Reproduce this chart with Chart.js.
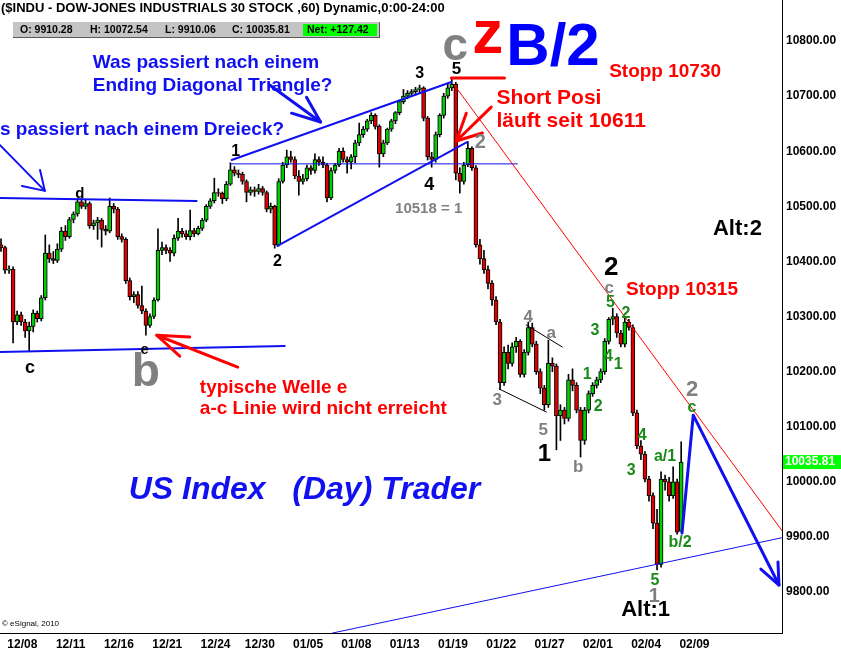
<!DOCTYPE html>
<html>
<head>
<meta charset="utf-8">
<script src="https://cdn.jsdelivr.net/npm/chart.js@4.4.0/dist/chart.umd.min.js"></script>
<style>
  html, body { margin: 0; padding: 0; background: #fff; }
</style>
</head>
<body>
<canvas id="chart" width="841" height="653"></canvas>
<script>
// $INDU hourly candles (about 4 candles per trading day)
const dayLabels = ['12/08','12/11','12/16','12/21','12/24','12/30','01/05','01/08','01/13','01/19','01/22','01/27','02/01','02/04','02/09'];
const dayStart  = [2, 14, 26, 38, 50, 61, 73, 85, 97, 109, 121, 133, 145, 157, 169]; // candle index of each labelled day
const yTicks = [9800, 9900, 10000, 10100, 10200, 10300, 10400, 10500, 10600, 10700, 10800];

const opens = [10430,
  10425,10384,10386,10290, 10303,10290,10274,10282, 10306,10296,10334,10415, 10405,10402,10422,10455,
  10445,10476,10486,10508, 10500,10505,10465,10470, 10475,10458,10455,10500, 10495,10445,10440,10365,
  10336,10340,10320,10310, 10284,10300,10330,10420, 10425,10420,10415,10442, 10455,10450,10445,10456,
  10450,10460,10475,10500, 10510,10525,10524,10514, 10540,10566,10560,10558, 10545,10525,10530,10527,
  10532,10525,10495,10500, 10430,10545,10575,10590, 10585,10555,10545,10550, 10570,10565,10585,10580,
  10575,10515,10565,10575, 10600,10585,10580,10590, 10615,10630,10640,10655, 10665,10645,10595,10615,
  10640,10655,10670,10690, 10700,10705,10708,10712, 10715,10660,10590,10585, 10630,10665,10700,10715,
  10722,10560,10545,10575, 10605,10570,10430,10405, 10385,10360,10330,10290, 10180,10235,10215,10245,
  10255,10195,10235,10280, 10250,10200,10170,10140, 10215,10210,10120,10130, 10115,10185,10175,10130,
  10075,10130,10160,10175, 10185,10200,10255,10295, 10300,10270,10250,10290, 10280,10125,10065,10050,
  10005,9975,9925,9850, 10005,10000,9975,10000, 9910.28];

const highs = [
  10441,10428,10392,10390, 10310,10308,10295,10290, 10312,10310,10338,10448, 10430,10418,10432,10462,
  10465,10480,10490,10514, 10515,10512,10508,10475, 10480,10478,10465,10515, 10505,10498,10450,10443,
  10370,10345,10345,10355, 10314,10305,10334,10459, 10435,10430,10425,10448, 10478,10460,10456,10493,
  10460,10464,10478,10503, 10514,10551,10532,10526, 10545,10579,10572,10566, 10562,10548,10535,10535,
  10540,10536,10528,10506, 10502,10550,10580,10602, 10600,10590,10565,10558, 10575,10574,10595,10590,
  10590,10578,10570,10578, 10605,10606,10590,10594, 10620,10651,10645,10658, 10670,10668,10648,10620,
  10642,10658,10672,10692, 10712,10710,10712,10716, 10720,10717,10663,10598, 10635,10668,10705,10722,
  10733,10725,10570,10580, 10617,10608,10574,10440, 10420,10392,10365,10336, 10295,10245,10248,10252,
  10262,10258,10240,10290, 10288,10255,10205,10175, 10257,10225,10214,10140, 10135,10195,10205,10180,
  10135,10135,10165,10180, 10190,10205,10260,10298, 10315,10305,10275,10300, 10295,10285,10130,10075,
  10055,10010,9980,9950, 10018,10012,10008,10027, 10005,10072.54];

const lows = [
  10418,10378,10378,10252, 10285,10284,10262,10236, 10272,10290,10292,10330, 10398,10396,10398,10418,
  10438,10442,10470,10482, 10496,10495,10460,10458, 10440,10426,10448,10452, 10488,10440,10435,10360,
  10330,10325,10315,10305, 10266,10280,10296,10328, 10412,10414,10400,10410, 10438,10444,10440,10439,
  10445,10448,10456,10472, 10496,10506,10518,10505, 10510,10538,10555,10552, 10540,10508,10520,10518,
  10522,10520,10490,10488, 10424,10428,10542,10570, 10580,10550,10520,10540, 10546,10558,10560,10574,
  10570,10508,10512,10560, 10572,10580,10560,10568, 10579,10610,10625,10636, 10650,10640,10571,10590,
  10612,10636,10650,10666, 10686,10695,10700,10702, 10706,10655,10584,10571, 10580,10626,10660,10696,
  10710,10548,10524,10540, 10572,10565,10426,10395, 10378,10350,10320,10285, 10167,10175,10205,10210,
  10235,10190,10190,10230, 10245,10195,10160,10130, 10135,10200,10058,10075, 10105,10110,10165,10125,
  10045,10068,10125,10155, 10170,10180,10195,10250, 10285,10262,10245,10245, 10275,10120,10060,10040,
  10000,9965,9915,9840, 9845,9985,9965,9970, 9905,9910.06];

const closes = [
  10425,10384,10386,10290, 10303,10290,10274,10282, 10306,10296,10334,10415, 10405,10402,10422,10455,
  10445,10476,10486,10508, 10500,10505,10465,10470, 10475,10458,10455,10500, 10495,10445,10440,10365,
  10336,10340,10320,10310, 10284,10300,10330,10420, 10425,10420,10415,10442, 10455,10450,10445,10456,
  10450,10460,10475,10500, 10510,10525,10524,10514, 10540,10566,10560,10558, 10545,10525,10530,10527,
  10532,10525,10495,10500, 10430,10545,10575,10590, 10585,10555,10545,10550, 10570,10565,10585,10580,
  10575,10515,10565,10575, 10600,10585,10580,10590, 10615,10630,10640,10655, 10665,10645,10595,10615,
  10640,10655,10670,10690, 10700,10705,10708,10712, 10715,10660,10590,10585, 10630,10665,10700,10715,
  10722,10560,10545,10575, 10605,10570,10430,10405, 10385,10360,10330,10290, 10180,10235,10215,10245,
  10255,10195,10235,10280, 10250,10200,10170,10140, 10215,10210,10120,10130, 10115,10185,10175,10130,
  10075,10130,10160,10175, 10185,10200,10255,10295, 10300,10270,10250,10290, 10280,10125,10065,10050,
  10005,9975,9925,9850, 10005,10000,9975,10000, 9908.39,10035.81];

const n = Math.min(opens.length, highs.length, lows.length, closes.length);
const idx = [...Array(n).keys()];

// colours
const K = '#000', G = '#808080', R = '#ff0000', B = '#1010f0', GR = '#1a8a1a';
const F = s => s + ' "Liberation Sans", Arial, sans-serif';

// annotations, placed in data units (candle index, price)
const notes = [
  ['1', 58.3, 10599, 'bold 16px', K], ['2', 68.7, 10399, 'bold 16px', K], ['3', 104.0, 10740, 'bold 16px', K],
  ['4', 106.4, 10539, 'bold 18px', K], ['5', 113.15, 10748, 'bold 17px', K],
  ['c', 7.2, 10206, 'bold 18px', K], ['d', 19.6, 10522, 'bold 15px', K], ['e', 35.7, 10239, 'bold 15px', K],
  ['b', 36.0, 10196, 'bold 46px', G],
  ['10518 = 1', 114.6, 10496, 'bold 15px', G, 'right'],
  ['2', 119.1, 10615, 'bold 20px', G],
  ['4', 131.0, 10299, 'bold 17px', G], ['a', 136.7, 10270, 'bold 17px', G], ['3', 123.3, 10148, 'bold 17px', G],
  ['5', 134.7, 10094, 'bold 17px', G], ['b', 143.4, 10027, 'bold 17px', G],
  ['1', 135.0, 10050, 'bold 24px', K],
  ['2', 151.6, 10388, 'bold 26px', K], ['c', 151.1, 10351, 'bold 17px', G],
  ['5', 151.4, 10326, 'bold 16px', GR], ['3', 147.6, 10274, 'bold 16px', GR], ['2', 155.3, 10306, 'bold 16px', GR],
  ['4', 150.9, 10228, 'bold 16px', GR], ['1', 153.35, 10212, 'bold 16px', GR], ['1', 145.65, 10194, 'bold 16px', GR],
  ['2', 148.4, 10136, 'bold 16px', GR], ['4', 159.3, 10083, 'bold 16px', GR], ['3', 156.6, 10020, 'bold 16px', GR],
  ['a/1', 165.0, 10045, 'bold 16px', GR], ['b/2', 168.7, 9889, 'bold 16px', GR], ['5', 162.5, 9820, 'bold 16px', GR],
  ['c', 171.7, 10134, 'bold 16px', GR],
  ['2', 171.7, 10167, 'bold 22px', G], ['1', 162.3, 9791, 'bold 20px', G],
  ['Alt:1', 154.1, 9767, 'bold 22px', K, 'left'], ['Alt:2', 176.9, 10459, 'bold 22px', K, 'left'],
  ['Stopp 10315', 155.3, 10348, 'bold 19px', R, 'left'], ['Stopp 10730', 151.1, 10744, 'bold 19px', R, 'left'],
  ['Short Posi', 123.1, 10697, 'bold 21px', R, 'left'], ['läuft seit 10611', 123.1, 10655, 'bold 21px', R, 'left'],
  ['Was passiert nach einem', 22.8, 10760, 'bold 19px', B, 'left'],
  ['Ending Diagonal Triangle?', 22.8, 10718, 'bold 19px', B, 'left'],
  ['s passiert nach einem Dreieck?', -0.25, 10639, 'bold 19px', B, 'left'],
  ['typische Welle e', 49.4, 10170, 'bold 19px', R, 'left'],
  ['a-c Linie wird nicht erreicht', 49.4, 10132, 'bold 19px', R, 'left'],
  ['US Index   (Day) Trader', 75.4, 9985, 'italic bold 32px', B],
  ['c', 109.7, 10765.5, 'bold 46px', G, 'left', 'alphabetic'],
  ['z', 117.1, 10778, 'bold 62px', R, 'left', 'alphabetic'],
  ['B/2', 125.55, 10756, 'bold 60px', '#0000ff', 'left', 'alphabetic']
];

const strokes = [
  { pts: [[57.3, 10584], [111.9, 10725.6]], c: B, w: 2 },
  { pts: [[68.7, 10428], [115.9, 10616.7]], c: B, w: 2 },
  { pts: [[57.3, 10577], [128.3, 10577]], c: B, w: 1 },
  { pts: [[-0.25, 10515], [48.6, 10509.6]], c: B, w: 2 },
  { pts: [[-0.25, 10235.6], [70.5, 10246.5]], c: B, w: 2 },
  { pts: [[82.4, 9725.6], [195, 9900]], c: B, w: 1 },
  { pts: [[112.65, 10720], [195, 9902]], c: R, w: 1 },
  { pts: [[169.2, 9907], [172.0, 10121], [193.3, 9812.7]], c: B, w: 3 },
  { pts: [[188.8, 9841.7], [193.3, 9812.7], [193.05, 9854.4]], c: B, w: 3 },
  { pts: [[121.8, 10680], [113.15, 10618.5]], c: R, w: 3 },
  { pts: [[115.6, 10669], [113.15, 10618.5], [119.6, 10633]], c: R, w: 3 },
  { pts: [[111.9, 10733], [125.1, 10733]], c: R, w: 3 },
  { pts: [[66.75, 10720], [79.4, 10653]], c: B, w: 3 },
  { pts: [[75.9, 10698], [79.4, 10653], [72.2, 10669]], c: B, w: 3 },
  { pts: [[-0.25, 10611], [10.9, 10528]], c: B, w: 2 },
  { pts: [[5.2, 10537], [10.9, 10528], [9.7, 10566]], c: B, w: 2 },
  { pts: [[58.8, 10208], [38.7, 10266]], c: R, w: 3 },
  { pts: [[46.9, 10263], [38.7, 10266], [44.4, 10228]], c: R, w: 3 },
  { pts: [[130.5, 10284.6], [139.45, 10244.7]], c: K, w: 1 },
  { pts: [[123.8, 10168.4], [135.5, 10126.7]], c: K, w: 1 }
];

const overlay = {
  id: 'overlay',
  afterDatasetsDraw(chart) {
    const { ctx, chartArea: a, scales: { x, y } } = chart;
    ctx.save();
    ctx.beginPath();
    ctx.rect(a.left, a.top, a.right - a.left, a.bottom - a.top);
    ctx.clip();
    ctx.lineCap = 'round';
    ctx.lineJoin = 'round';
    strokes.forEach(s => {
      ctx.beginPath();
      s.pts.forEach(([px, py], k) => {
        const X = x.getPixelForValue(px), Y = y.getPixelForValue(py);
        if (k) ctx.lineTo(X, Y); else ctx.moveTo(X, Y);
      });
      ctx.strokeStyle = s.c;
      ctx.lineWidth = s.w;
      ctx.stroke();
    });
    notes.forEach(([t, px, py, f, c, al, bl]) => {
      ctx.font = F(f);
      ctx.fillStyle = c;
      ctx.textAlign = al || 'center';
      ctx.textBaseline = bl || 'middle';
      ctx.fillText(t, x.getPixelForValue(px), y.getPixelForValue(py));
    });
    ctx.font = F('8px');
    ctx.fillStyle = K;
    ctx.textAlign = 'left';
    ctx.fillText('\u00a9 eSignal, 2010', a.left + 2, a.bottom - 7);
    ctx.restore();

    // title line and quote strip
    const last = n - 1;
    ctx.save();
    ctx.textAlign = 'left';
    ctx.textBaseline = 'middle';
    ctx.font = F('bold 13px');
    ctx.fillStyle = K;
    ctx.fillText('($INDU - DOW-JONES INDUSTRIALS 30 STOCK ,60) Dynamic,0:00-24:00', 1, 8);
    ctx.fillStyle = '#c4c4c4';
    ctx.fillRect(13, 22, 367, 16);
    ctx.fillStyle = '#5a5a5a';
    ctx.fillRect(13, 37, 367, 1);
    ctx.fillRect(379, 22, 1, 16);
    ctx.fillStyle = '#00ff00';
    ctx.fillRect(303, 24, 74, 12);
    ctx.font = F('bold 10.5px');
    ctx.fillStyle = K;
    const net = closes[last] - closes[last - 1];
    ctx.fillText('O: ' + opens[last].toFixed(2), 20, 30);
    ctx.fillText('H: ' + highs[last].toFixed(2), 90, 30);
    ctx.fillText('L: ' + lows[last].toFixed(2), 165, 30);
    ctx.fillText('C: ' + closes[last].toFixed(2), 232, 30);
    ctx.fillText('Net: ' + (net >= 0 ? '+' : '') + net.toFixed(2), 307, 30);

    // last price tag on the axis
    const ty = y.getPixelForValue(closes[last]);
    ctx.fillStyle = '#00ff00';
    ctx.fillRect(a.right + 1, ty - 7, 58, 14);
    ctx.fillStyle = '#fff';
    ctx.font = F('bold 12px');
    ctx.fillText(closes[last].toFixed(2), a.right + 3, ty);
    ctx.restore();
  }
};

new Chart(document.getElementById('chart'), {
  type: 'bar',
  data: {
    datasets: [
      {
        label: 'range',
        data: idx.map(i => ({ x: i, y: [lows[i], highs[i]] })),
        backgroundColor: K,
        barThickness: 1,
        grouped: false,
        order: 2
      },
      {
        label: 'body',
        data: idx.map(i => ({ x: i, y: [opens[i], closes[i]] })),
        backgroundColor: idx.map(i => closes[i] >= opens[i] ? '#00cc00' : '#dd0000'),
        borderColor: K,
        borderWidth: 1,
        borderSkipped: false,
        barThickness: 4,
        grouped: false,
        order: 1
      }
    ]
  },
  options: {
    responsive: false,
    animation: false,
    devicePixelRatio: 1,
    layout: { padding: 0, autoPadding: false },
    plugins: { legend: { display: false }, tooltip: { enabled: false } },
    scales: {
      x: {
        type: 'linear',
        offset: false,
        min: -0.25,
        max: 194.05,
        grid: { display: false, drawTicks: false, offset: false },
        border: { display: true, color: K, width: 1 },
        afterBuildTicks: s => { s.ticks = dayStart.map(v => ({ value: v + 3.3 })); },
        ticks: {
          autoSkip: false,
          maxRotation: 0,
          padding: 4,
          color: K,
          font: { family: '"Liberation Sans", Arial, sans-serif', size: 12, weight: 'bold' },
          callback: (v, i) => dayLabels[i]
        },
        afterFit: s => { s.height = 20; s.paddingLeft = 0; s.paddingRight = 0; }
      },
      y: {
        position: 'right',
        min: 9725.6,
        max: 10874.4,
        grid: { display: false, drawTicks: false },
        border: { display: true, color: K, width: 1 },
        afterBuildTicks: s => { s.ticks = yTicks.map(v => ({ value: v })); },
        ticks: {
          padding: 4,
          color: K,
          font: { family: '"Liberation Sans", Arial, sans-serif', size: 12, weight: 'bold' },
          callback: v => Number(v).toFixed(2)
        },
        afterFit: s => { s.width = 59; s.paddingTop = 0; s.paddingBottom = 0; }
      }
    }
  },
  plugins: [overlay]
});
</script>
</body>
</html>
